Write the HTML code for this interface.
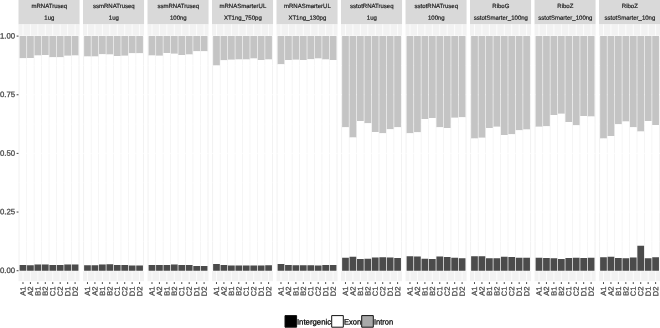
<!DOCTYPE html>
<html><head><meta charset="utf-8"><title>chart</title><style>html,body{margin:0;padding:0;background:#fff}body{width:660px;height:328px;overflow:hidden}</style></head><body>
<svg width="660" height="328" viewBox="0 0 660 328" style="display:block;will-change:transform;text-rendering:geometricPrecision" font-family="Liberation Sans, sans-serif">
<rect width="660" height="328" fill="#fff"/>
<rect x="18.5" y="0" width="61.05" height="24.4" fill="#d9d9d9"/>
<rect x="18.5" y="24.4" width="61.05" height="256.8" fill="#f2f2f2"/>
<path d="M18.5 241.38h61.05M18.5 182.72h61.05M18.5 124.07h61.05M18.5 65.42h61.05" stroke="#fff" stroke-width="0.39" fill="none"/>
<path d="M18.5 270.7h61.05M18.5 212.05h61.05M18.5 153.4h61.05M18.5 94.75h61.05M18.5 36.1h61.05M22.97 24.4V281.2M30.41 24.4V281.2M37.86 24.4V281.2M45.3 24.4V281.2M52.75 24.4V281.2M60.19 24.4V281.2M67.64 24.4V281.2M75.08 24.4V281.2" stroke="#fff" stroke-width="0.78" fill="none"/>
<path d="M19.62 36.1h6.7V58.2h-6.7zM27.06 36.1h6.7V57.9h-6.7zM34.51 36.1h6.7V55.4h-6.7zM41.95 36.1h6.7V55.1h-6.7zM49.4 36.1h6.7V57.2h-6.7zM56.84 36.1h6.7V57.3h-6.7zM64.29 36.1h6.7V55.7h-6.7zM71.73 36.1h6.7V55.4h-6.7z" fill="#c4c4c4"/>
<path d="M19.62 58.2h6.7V264.9h-6.7zM27.06 57.9h6.7V265.2h-6.7zM34.51 55.4h6.7V264.4h-6.7zM41.95 55.1h6.7V264.4h-6.7zM49.4 57.2h6.7V265.1h-6.7zM56.84 57.3h6.7V265.1h-6.7zM64.29 55.7h6.7V264.6h-6.7zM71.73 55.4h6.7V264.6h-6.7z" fill="#ffffff"/>
<path d="M19.62 264.9h6.7V270.7h-6.7zM27.06 265.2h6.7V270.7h-6.7zM34.51 264.4h6.7V270.7h-6.7zM41.95 264.4h6.7V270.7h-6.7zM49.4 265.1h6.7V270.7h-6.7zM56.84 265.1h6.7V270.7h-6.7zM64.29 264.6h6.7V270.7h-6.7zM71.73 264.6h6.7V270.7h-6.7z" fill="#4b4b4b"/>
<path d="M22.97 282.1v1.9M30.41 282.1v1.9M37.86 282.1v1.9M45.3 282.1v1.9M52.75 282.1v1.9M60.19 282.1v1.9M67.64 282.1v1.9M75.08 282.1v1.9" stroke="#333" stroke-width="0.9" fill="none"/>
<text transform="translate(49.32 7.95) rotate(0.06)" font-size="6.03" text-anchor="middle" fill="#1a1a1a" stroke="#1a1a1a" stroke-width="0.18">mRNATruseq</text>
<text transform="translate(49.32 19.85) rotate(0.06)" font-size="6.03" text-anchor="middle" fill="#1a1a1a" stroke="#1a1a1a" stroke-width="0.18">1ug</text>
<text transform="translate(25.55 286.65) rotate(-89.9)" font-size="7.5" text-anchor="end" fill="#4d4d4d" stroke="#4d4d4d" stroke-width="0.3">A1</text>
<text transform="translate(32.99 286.65) rotate(-89.9)" font-size="7.5" text-anchor="end" fill="#4d4d4d" stroke="#4d4d4d" stroke-width="0.3">A2</text>
<text transform="translate(40.44 286.65) rotate(-89.9)" font-size="7.5" text-anchor="end" fill="#4d4d4d" stroke="#4d4d4d" stroke-width="0.3">B1</text>
<text transform="translate(47.88 286.65) rotate(-89.9)" font-size="7.5" text-anchor="end" fill="#4d4d4d" stroke="#4d4d4d" stroke-width="0.3">B2</text>
<text transform="translate(55.33 286.65) rotate(-89.9)" font-size="7.5" text-anchor="end" fill="#4d4d4d" stroke="#4d4d4d" stroke-width="0.3">C1</text>
<text transform="translate(62.77 286.65) rotate(-89.9)" font-size="7.5" text-anchor="end" fill="#4d4d4d" stroke="#4d4d4d" stroke-width="0.3">C2</text>
<text transform="translate(70.22 286.65) rotate(-89.9)" font-size="7.5" text-anchor="end" fill="#4d4d4d" stroke="#4d4d4d" stroke-width="0.3">D1</text>
<text transform="translate(77.66 286.65) rotate(-89.9)" font-size="7.5" text-anchor="end" fill="#4d4d4d" stroke="#4d4d4d" stroke-width="0.3">D2</text>
<rect x="83" y="0" width="61.05" height="24.4" fill="#d9d9d9"/>
<rect x="83" y="24.4" width="61.05" height="256.8" fill="#f2f2f2"/>
<path d="M83 241.38h61.05M83 182.72h61.05M83 124.07h61.05M83 65.42h61.05" stroke="#fff" stroke-width="0.39" fill="none"/>
<path d="M83 270.7h61.05M83 212.05h61.05M83 153.4h61.05M83 94.75h61.05M83 36.1h61.05M87.47 24.4V281.2M94.92 24.4V281.2M102.36 24.4V281.2M109.81 24.4V281.2M117.25 24.4V281.2M124.7 24.4V281.2M132.14 24.4V281.2M139.59 24.4V281.2" stroke="#fff" stroke-width="0.78" fill="none"/>
<path d="M84.12 36.1h6.7V56.4h-6.7zM91.56 36.1h6.7V56.4h-6.7zM99.01 36.1h6.7V54.3h-6.7zM106.46 36.1h6.7V54.6h-6.7zM113.9 36.1h6.7V56.1h-6.7zM121.35 36.1h6.7V55.7h-6.7zM128.79 36.1h6.7V53.3h-6.7zM136.24 36.1h6.7V53.3h-6.7z" fill="#c4c4c4"/>
<path d="M84.12 56.4h6.7V265.2h-6.7zM91.56 56.4h6.7V265.2h-6.7zM99.01 54.3h6.7V264.6h-6.7zM106.46 54.6h6.7V264.3h-6.7zM113.9 56.1h6.7V265h-6.7zM121.35 55.7h6.7V265.1h-6.7zM128.79 53.3h6.7V265.5h-6.7zM136.24 53.3h6.7V265.5h-6.7z" fill="#ffffff"/>
<path d="M84.12 265.2h6.7V270.7h-6.7zM91.56 265.2h6.7V270.7h-6.7zM99.01 264.6h6.7V270.7h-6.7zM106.46 264.3h6.7V270.7h-6.7zM113.9 265h6.7V270.7h-6.7zM121.35 265.1h6.7V270.7h-6.7zM128.79 265.5h6.7V270.7h-6.7zM136.24 265.5h6.7V270.7h-6.7z" fill="#4b4b4b"/>
<path d="M87.47 282.1v1.9M94.92 282.1v1.9M102.36 282.1v1.9M109.81 282.1v1.9M117.25 282.1v1.9M124.7 282.1v1.9M132.14 282.1v1.9M139.59 282.1v1.9" stroke="#333" stroke-width="0.9" fill="none"/>
<text transform="translate(113.83 7.95) rotate(0.06)" font-size="6.03" text-anchor="middle" fill="#1a1a1a" stroke="#1a1a1a" stroke-width="0.18">ssmRNATruseq</text>
<text transform="translate(113.83 19.85) rotate(0.06)" font-size="6.03" text-anchor="middle" fill="#1a1a1a" stroke="#1a1a1a" stroke-width="0.18">1ug</text>
<text transform="translate(90.05 286.65) rotate(-89.9)" font-size="7.5" text-anchor="end" fill="#4d4d4d" stroke="#4d4d4d" stroke-width="0.3">A1</text>
<text transform="translate(97.5 286.65) rotate(-89.9)" font-size="7.5" text-anchor="end" fill="#4d4d4d" stroke="#4d4d4d" stroke-width="0.3">A2</text>
<text transform="translate(104.94 286.65) rotate(-89.9)" font-size="7.5" text-anchor="end" fill="#4d4d4d" stroke="#4d4d4d" stroke-width="0.3">B1</text>
<text transform="translate(112.39 286.65) rotate(-89.9)" font-size="7.5" text-anchor="end" fill="#4d4d4d" stroke="#4d4d4d" stroke-width="0.3">B2</text>
<text transform="translate(119.83 286.65) rotate(-89.9)" font-size="7.5" text-anchor="end" fill="#4d4d4d" stroke="#4d4d4d" stroke-width="0.3">C1</text>
<text transform="translate(127.28 286.65) rotate(-89.9)" font-size="7.5" text-anchor="end" fill="#4d4d4d" stroke="#4d4d4d" stroke-width="0.3">C2</text>
<text transform="translate(134.72 286.65) rotate(-89.9)" font-size="7.5" text-anchor="end" fill="#4d4d4d" stroke="#4d4d4d" stroke-width="0.3">D1</text>
<text transform="translate(142.17 286.65) rotate(-89.9)" font-size="7.5" text-anchor="end" fill="#4d4d4d" stroke="#4d4d4d" stroke-width="0.3">D2</text>
<rect x="147.51" y="0" width="61.05" height="24.4" fill="#d9d9d9"/>
<rect x="147.51" y="24.4" width="61.05" height="256.8" fill="#f2f2f2"/>
<path d="M147.51 241.38h61.05M147.51 182.72h61.05M147.51 124.07h61.05M147.51 65.42h61.05" stroke="#fff" stroke-width="0.39" fill="none"/>
<path d="M147.51 270.7h61.05M147.51 212.05h61.05M147.51 153.4h61.05M147.51 94.75h61.05M147.51 36.1h61.05M151.97 24.4V281.2M159.42 24.4V281.2M166.86 24.4V281.2M174.31 24.4V281.2M181.75 24.4V281.2M189.2 24.4V281.2M196.64 24.4V281.2M204.09 24.4V281.2" stroke="#fff" stroke-width="0.78" fill="none"/>
<path d="M148.62 36.1h6.7V55.4h-6.7zM156.07 36.1h6.7V55.7h-6.7zM163.51 36.1h6.7V53.1h-6.7zM170.96 36.1h6.7V53.7h-6.7zM178.4 36.1h6.7V54.9h-6.7zM185.85 36.1h6.7V54.5h-6.7zM193.29 36.1h6.7V51.2h-6.7zM200.74 36.1h6.7V51.2h-6.7z" fill="#c4c4c4"/>
<path d="M148.62 55.4h6.7V265h-6.7zM156.07 55.7h6.7V264.9h-6.7zM163.51 53.1h6.7V264.9h-6.7zM170.96 53.7h6.7V264.4h-6.7zM178.4 54.9h6.7V264.9h-6.7zM185.85 54.5h6.7V265h-6.7zM193.29 51.2h6.7V265.9h-6.7zM200.74 51.2h6.7V265.9h-6.7z" fill="#ffffff"/>
<path d="M148.62 265h6.7V270.7h-6.7zM156.07 264.9h6.7V270.7h-6.7zM163.51 264.9h6.7V270.7h-6.7zM170.96 264.4h6.7V270.7h-6.7zM178.4 264.9h6.7V270.7h-6.7zM185.85 265h6.7V270.7h-6.7zM193.29 265.9h6.7V270.7h-6.7zM200.74 265.9h6.7V270.7h-6.7z" fill="#4b4b4b"/>
<path d="M151.97 282.1v1.9M159.42 282.1v1.9M166.86 282.1v1.9M174.31 282.1v1.9M181.75 282.1v1.9M189.2 282.1v1.9M196.64 282.1v1.9M204.09 282.1v1.9" stroke="#333" stroke-width="0.9" fill="none"/>
<text transform="translate(178.33 7.95) rotate(0.06)" font-size="6.03" text-anchor="middle" fill="#1a1a1a" stroke="#1a1a1a" stroke-width="0.18">ssmRNATruseq</text>
<text transform="translate(178.33 19.85) rotate(0.06)" font-size="6.03" text-anchor="middle" fill="#1a1a1a" stroke="#1a1a1a" stroke-width="0.18">100ng</text>
<text transform="translate(154.55 286.65) rotate(-89.9)" font-size="7.5" text-anchor="end" fill="#4d4d4d" stroke="#4d4d4d" stroke-width="0.3">A1</text>
<text transform="translate(162 286.65) rotate(-89.9)" font-size="7.5" text-anchor="end" fill="#4d4d4d" stroke="#4d4d4d" stroke-width="0.3">A2</text>
<text transform="translate(169.44 286.65) rotate(-89.9)" font-size="7.5" text-anchor="end" fill="#4d4d4d" stroke="#4d4d4d" stroke-width="0.3">B1</text>
<text transform="translate(176.89 286.65) rotate(-89.9)" font-size="7.5" text-anchor="end" fill="#4d4d4d" stroke="#4d4d4d" stroke-width="0.3">B2</text>
<text transform="translate(184.33 286.65) rotate(-89.9)" font-size="7.5" text-anchor="end" fill="#4d4d4d" stroke="#4d4d4d" stroke-width="0.3">C1</text>
<text transform="translate(191.78 286.65) rotate(-89.9)" font-size="7.5" text-anchor="end" fill="#4d4d4d" stroke="#4d4d4d" stroke-width="0.3">C2</text>
<text transform="translate(199.22 286.65) rotate(-89.9)" font-size="7.5" text-anchor="end" fill="#4d4d4d" stroke="#4d4d4d" stroke-width="0.3">D1</text>
<text transform="translate(206.67 286.65) rotate(-89.9)" font-size="7.5" text-anchor="end" fill="#4d4d4d" stroke="#4d4d4d" stroke-width="0.3">D2</text>
<rect x="212.01" y="0" width="61.05" height="24.4" fill="#d9d9d9"/>
<rect x="212.01" y="24.4" width="61.05" height="256.8" fill="#f2f2f2"/>
<path d="M212.01 241.38h61.05M212.01 182.72h61.05M212.01 124.07h61.05M212.01 65.42h61.05" stroke="#fff" stroke-width="0.39" fill="none"/>
<path d="M212.01 270.7h61.05M212.01 212.05h61.05M212.01 153.4h61.05M212.01 94.75h61.05M212.01 36.1h61.05M216.48 24.4V281.2M223.92 24.4V281.2M231.37 24.4V281.2M238.81 24.4V281.2M246.26 24.4V281.2M253.7 24.4V281.2M261.15 24.4V281.2M268.59 24.4V281.2" stroke="#fff" stroke-width="0.78" fill="none"/>
<path d="M213.13 36.1h6.7V65.5h-6.7zM220.57 36.1h6.7V60.3h-6.7zM228.02 36.1h6.7V59.8h-6.7zM235.46 36.1h6.7V59.4h-6.7zM242.91 36.1h6.7V59.4h-6.7zM250.35 36.1h6.7V58.4h-6.7zM257.8 36.1h6.7V60h-6.7zM265.24 36.1h6.7V59.4h-6.7z" fill="#c4c4c4"/>
<path d="M213.13 65.5h6.7V264h-6.7zM220.57 60.3h6.7V265h-6.7zM228.02 59.8h6.7V265.6h-6.7zM235.46 59.4h6.7V265.5h-6.7zM242.91 59.4h6.7V265.5h-6.7zM250.35 58.4h6.7V265.6h-6.7zM257.8 60h6.7V265.5h-6.7zM265.24 59.4h6.7V265.2h-6.7z" fill="#ffffff"/>
<path d="M213.13 264h6.7V270.7h-6.7zM220.57 265h6.7V270.7h-6.7zM228.02 265.6h6.7V270.7h-6.7zM235.46 265.5h6.7V270.7h-6.7zM242.91 265.5h6.7V270.7h-6.7zM250.35 265.6h6.7V270.7h-6.7zM257.8 265.5h6.7V270.7h-6.7zM265.24 265.2h6.7V270.7h-6.7z" fill="#4b4b4b"/>
<path d="M216.48 282.1v1.9M223.92 282.1v1.9M231.37 282.1v1.9M238.81 282.1v1.9M246.26 282.1v1.9M253.7 282.1v1.9M261.15 282.1v1.9M268.59 282.1v1.9" stroke="#333" stroke-width="0.9" fill="none"/>
<text transform="translate(242.83 7.95) rotate(0.06)" font-size="6.03" text-anchor="middle" fill="#1a1a1a" stroke="#1a1a1a" stroke-width="0.18">mRNASmarterUL</text>
<text transform="translate(242.83 19.85) rotate(0.06)" font-size="6.03" text-anchor="middle" fill="#1a1a1a" stroke="#1a1a1a" stroke-width="0.18">XT1ng_750pg</text>
<text transform="translate(219.06 286.65) rotate(-89.9)" font-size="7.5" text-anchor="end" fill="#4d4d4d" stroke="#4d4d4d" stroke-width="0.3">A1</text>
<text transform="translate(226.5 286.65) rotate(-89.9)" font-size="7.5" text-anchor="end" fill="#4d4d4d" stroke="#4d4d4d" stroke-width="0.3">A2</text>
<text transform="translate(233.95 286.65) rotate(-89.9)" font-size="7.5" text-anchor="end" fill="#4d4d4d" stroke="#4d4d4d" stroke-width="0.3">B1</text>
<text transform="translate(241.39 286.65) rotate(-89.9)" font-size="7.5" text-anchor="end" fill="#4d4d4d" stroke="#4d4d4d" stroke-width="0.3">B2</text>
<text transform="translate(248.84 286.65) rotate(-89.9)" font-size="7.5" text-anchor="end" fill="#4d4d4d" stroke="#4d4d4d" stroke-width="0.3">C1</text>
<text transform="translate(256.28 286.65) rotate(-89.9)" font-size="7.5" text-anchor="end" fill="#4d4d4d" stroke="#4d4d4d" stroke-width="0.3">C2</text>
<text transform="translate(263.73 286.65) rotate(-89.9)" font-size="7.5" text-anchor="end" fill="#4d4d4d" stroke="#4d4d4d" stroke-width="0.3">D1</text>
<text transform="translate(271.17 286.65) rotate(-89.9)" font-size="7.5" text-anchor="end" fill="#4d4d4d" stroke="#4d4d4d" stroke-width="0.3">D2</text>
<rect x="276.51" y="0" width="61.05" height="24.4" fill="#d9d9d9"/>
<rect x="276.51" y="24.4" width="61.05" height="256.8" fill="#f2f2f2"/>
<path d="M276.51 241.38h61.05M276.51 182.72h61.05M276.51 124.07h61.05M276.51 65.42h61.05" stroke="#fff" stroke-width="0.39" fill="none"/>
<path d="M276.51 270.7h61.05M276.51 212.05h61.05M276.51 153.4h61.05M276.51 94.75h61.05M276.51 36.1h61.05M280.98 24.4V281.2M288.42 24.4V281.2M295.87 24.4V281.2M303.31 24.4V281.2M310.76 24.4V281.2M318.2 24.4V281.2M325.65 24.4V281.2M333.09 24.4V281.2" stroke="#fff" stroke-width="0.78" fill="none"/>
<path d="M277.63 36.1h6.7V64.3h-6.7zM285.07 36.1h6.7V60h-6.7zM292.52 36.1h6.7V59.8h-6.7zM299.96 36.1h6.7V60h-6.7zM307.41 36.1h6.7V59.2h-6.7zM314.85 36.1h6.7V58.4h-6.7zM322.3 36.1h6.7V59.4h-6.7zM329.74 36.1h6.7V60h-6.7z" fill="#c4c4c4"/>
<path d="M277.63 64.3h6.7V264h-6.7zM285.07 60h6.7V265h-6.7zM292.52 59.8h6.7V265.2h-6.7zM299.96 60h6.7V265.2h-6.7zM307.41 59.2h6.7V265.2h-6.7zM314.85 58.4h6.7V265.5h-6.7zM322.3 59.4h6.7V265h-6.7zM329.74 60h6.7V264.9h-6.7z" fill="#ffffff"/>
<path d="M277.63 264h6.7V270.7h-6.7zM285.07 265h6.7V270.7h-6.7zM292.52 265.2h6.7V270.7h-6.7zM299.96 265.2h6.7V270.7h-6.7zM307.41 265.2h6.7V270.7h-6.7zM314.85 265.5h6.7V270.7h-6.7zM322.3 265h6.7V270.7h-6.7zM329.74 264.9h6.7V270.7h-6.7z" fill="#4b4b4b"/>
<path d="M280.98 282.1v1.9M288.42 282.1v1.9M295.87 282.1v1.9M303.31 282.1v1.9M310.76 282.1v1.9M318.2 282.1v1.9M325.65 282.1v1.9M333.09 282.1v1.9" stroke="#333" stroke-width="0.9" fill="none"/>
<text transform="translate(307.34 7.95) rotate(0.06)" font-size="6.03" text-anchor="middle" fill="#1a1a1a" stroke="#1a1a1a" stroke-width="0.18">mRNASmarterUL</text>
<text transform="translate(307.34 19.85) rotate(0.06)" font-size="6.03" text-anchor="middle" fill="#1a1a1a" stroke="#1a1a1a" stroke-width="0.18">XT1ng_130pg</text>
<text transform="translate(283.56 286.65) rotate(-89.9)" font-size="7.5" text-anchor="end" fill="#4d4d4d" stroke="#4d4d4d" stroke-width="0.3">A1</text>
<text transform="translate(291 286.65) rotate(-89.9)" font-size="7.5" text-anchor="end" fill="#4d4d4d" stroke="#4d4d4d" stroke-width="0.3">A2</text>
<text transform="translate(298.45 286.65) rotate(-89.9)" font-size="7.5" text-anchor="end" fill="#4d4d4d" stroke="#4d4d4d" stroke-width="0.3">B1</text>
<text transform="translate(305.89 286.65) rotate(-89.9)" font-size="7.5" text-anchor="end" fill="#4d4d4d" stroke="#4d4d4d" stroke-width="0.3">B2</text>
<text transform="translate(313.34 286.65) rotate(-89.9)" font-size="7.5" text-anchor="end" fill="#4d4d4d" stroke="#4d4d4d" stroke-width="0.3">C1</text>
<text transform="translate(320.78 286.65) rotate(-89.9)" font-size="7.5" text-anchor="end" fill="#4d4d4d" stroke="#4d4d4d" stroke-width="0.3">C2</text>
<text transform="translate(328.23 286.65) rotate(-89.9)" font-size="7.5" text-anchor="end" fill="#4d4d4d" stroke="#4d4d4d" stroke-width="0.3">D1</text>
<text transform="translate(335.67 286.65) rotate(-89.9)" font-size="7.5" text-anchor="end" fill="#4d4d4d" stroke="#4d4d4d" stroke-width="0.3">D2</text>
<rect x="341.01" y="0" width="61.05" height="24.4" fill="#d9d9d9"/>
<rect x="341.01" y="24.4" width="61.05" height="256.8" fill="#f2f2f2"/>
<path d="M341.01 241.38h61.05M341.01 182.72h61.05M341.01 124.07h61.05M341.01 65.42h61.05" stroke="#fff" stroke-width="0.39" fill="none"/>
<path d="M341.01 270.7h61.05M341.01 212.05h61.05M341.01 153.4h61.05M341.01 94.75h61.05M341.01 36.1h61.05M345.48 24.4V281.2M352.93 24.4V281.2M360.37 24.4V281.2M367.82 24.4V281.2M375.26 24.4V281.2M382.71 24.4V281.2M390.15 24.4V281.2M397.6 24.4V281.2" stroke="#fff" stroke-width="0.78" fill="none"/>
<path d="M342.13 36.1h6.7V127.2h-6.7zM349.58 36.1h6.7V137.45h-6.7zM357.02 36.1h6.7V121.1h-6.7zM364.47 36.1h6.7V123.2h-6.7zM371.91 36.1h6.7V132.1h-6.7zM379.36 36.1h6.7V133.3h-6.7zM386.8 36.1h6.7V129.3h-6.7zM394.25 36.1h6.7V127.2h-6.7z" fill="#c4c4c4"/>
<path d="M342.13 127.2h6.7V257.8h-6.7zM349.58 137.45h6.7V256.7h-6.7zM357.02 121.1h6.7V259h-6.7zM364.47 123.2h6.7V258.8h-6.7zM371.91 132.1h6.7V257.6h-6.7zM379.36 133.3h6.7V257.2h-6.7zM386.8 129.3h6.7V257.4h-6.7zM394.25 127.2h6.7V257.9h-6.7z" fill="#ffffff"/>
<path d="M342.13 257.8h6.7V270.7h-6.7zM349.58 256.7h6.7V270.7h-6.7zM357.02 259h6.7V270.7h-6.7zM364.47 258.8h6.7V270.7h-6.7zM371.91 257.6h6.7V270.7h-6.7zM379.36 257.2h6.7V270.7h-6.7zM386.8 257.4h6.7V270.7h-6.7zM394.25 257.9h6.7V270.7h-6.7z" fill="#4b4b4b"/>
<path d="M345.48 282.1v1.9M352.93 282.1v1.9M360.37 282.1v1.9M367.82 282.1v1.9M375.26 282.1v1.9M382.71 282.1v1.9M390.15 282.1v1.9M397.6 282.1v1.9" stroke="#333" stroke-width="0.9" fill="none"/>
<text transform="translate(371.84 7.95) rotate(0.06)" font-size="6.03" text-anchor="middle" fill="#1a1a1a" stroke="#1a1a1a" stroke-width="0.18">sstotRNATruseq</text>
<text transform="translate(371.84 19.85) rotate(0.06)" font-size="6.03" text-anchor="middle" fill="#1a1a1a" stroke="#1a1a1a" stroke-width="0.18">1ug</text>
<text transform="translate(348.06 286.65) rotate(-89.9)" font-size="7.5" text-anchor="end" fill="#4d4d4d" stroke="#4d4d4d" stroke-width="0.3">A1</text>
<text transform="translate(355.51 286.65) rotate(-89.9)" font-size="7.5" text-anchor="end" fill="#4d4d4d" stroke="#4d4d4d" stroke-width="0.3">A2</text>
<text transform="translate(362.95 286.65) rotate(-89.9)" font-size="7.5" text-anchor="end" fill="#4d4d4d" stroke="#4d4d4d" stroke-width="0.3">B1</text>
<text transform="translate(370.4 286.65) rotate(-89.9)" font-size="7.5" text-anchor="end" fill="#4d4d4d" stroke="#4d4d4d" stroke-width="0.3">B2</text>
<text transform="translate(377.84 286.65) rotate(-89.9)" font-size="7.5" text-anchor="end" fill="#4d4d4d" stroke="#4d4d4d" stroke-width="0.3">C1</text>
<text transform="translate(385.29 286.65) rotate(-89.9)" font-size="7.5" text-anchor="end" fill="#4d4d4d" stroke="#4d4d4d" stroke-width="0.3">C2</text>
<text transform="translate(392.73 286.65) rotate(-89.9)" font-size="7.5" text-anchor="end" fill="#4d4d4d" stroke="#4d4d4d" stroke-width="0.3">D1</text>
<text transform="translate(400.18 286.65) rotate(-89.9)" font-size="7.5" text-anchor="end" fill="#4d4d4d" stroke="#4d4d4d" stroke-width="0.3">D2</text>
<rect x="405.52" y="0" width="61.05" height="24.4" fill="#d9d9d9"/>
<rect x="405.52" y="24.4" width="61.05" height="256.8" fill="#f2f2f2"/>
<path d="M405.52 241.38h61.05M405.52 182.72h61.05M405.52 124.07h61.05M405.52 65.42h61.05" stroke="#fff" stroke-width="0.39" fill="none"/>
<path d="M405.52 270.7h61.05M405.52 212.05h61.05M405.52 153.4h61.05M405.52 94.75h61.05M405.52 36.1h61.05M409.99 24.4V281.2M417.43 24.4V281.2M424.88 24.4V281.2M432.32 24.4V281.2M439.77 24.4V281.2M447.21 24.4V281.2M454.66 24.4V281.2M462.1 24.4V281.2" stroke="#fff" stroke-width="0.78" fill="none"/>
<path d="M406.63 36.1h6.7V133.3h-6.7zM414.08 36.1h6.7V132.3h-6.7zM421.53 36.1h6.7V118.9h-6.7zM428.97 36.1h6.7V118.1h-6.7zM436.42 36.1h6.7V127.2h-6.7zM443.86 36.1h6.7V128.1h-6.7zM451.31 36.1h6.7V117.7h-6.7zM458.75 36.1h6.7V117.3h-6.7z" fill="#c4c4c4"/>
<path d="M406.63 133.3h6.7V256.3h-6.7zM414.08 132.3h6.7V256.6h-6.7zM421.53 118.9h6.7V258.8h-6.7zM428.97 118.1h6.7V259h-6.7zM436.42 127.2h6.7V256.6h-6.7zM443.86 128.1h6.7V257.1h-6.7zM451.31 117.7h6.7V257.8h-6.7zM458.75 117.3h6.7V258.2h-6.7z" fill="#ffffff"/>
<path d="M406.63 256.3h6.7V270.7h-6.7zM414.08 256.6h6.7V270.7h-6.7zM421.53 258.8h6.7V270.7h-6.7zM428.97 259h6.7V270.7h-6.7zM436.42 256.6h6.7V270.7h-6.7zM443.86 257.1h6.7V270.7h-6.7zM451.31 257.8h6.7V270.7h-6.7zM458.75 258.2h6.7V270.7h-6.7z" fill="#4b4b4b"/>
<path d="M409.99 282.1v1.9M417.43 282.1v1.9M424.88 282.1v1.9M432.32 282.1v1.9M439.77 282.1v1.9M447.21 282.1v1.9M454.66 282.1v1.9M462.1 282.1v1.9" stroke="#333" stroke-width="0.9" fill="none"/>
<text transform="translate(436.34 7.95) rotate(0.06)" font-size="6.03" text-anchor="middle" fill="#1a1a1a" stroke="#1a1a1a" stroke-width="0.18">sstotRNATruseq</text>
<text transform="translate(436.34 19.85) rotate(0.06)" font-size="6.03" text-anchor="middle" fill="#1a1a1a" stroke="#1a1a1a" stroke-width="0.18">100ng</text>
<text transform="translate(412.57 286.65) rotate(-89.9)" font-size="7.5" text-anchor="end" fill="#4d4d4d" stroke="#4d4d4d" stroke-width="0.3">A1</text>
<text transform="translate(420.01 286.65) rotate(-89.9)" font-size="7.5" text-anchor="end" fill="#4d4d4d" stroke="#4d4d4d" stroke-width="0.3">A2</text>
<text transform="translate(427.46 286.65) rotate(-89.9)" font-size="7.5" text-anchor="end" fill="#4d4d4d" stroke="#4d4d4d" stroke-width="0.3">B1</text>
<text transform="translate(434.9 286.65) rotate(-89.9)" font-size="7.5" text-anchor="end" fill="#4d4d4d" stroke="#4d4d4d" stroke-width="0.3">B2</text>
<text transform="translate(442.35 286.65) rotate(-89.9)" font-size="7.5" text-anchor="end" fill="#4d4d4d" stroke="#4d4d4d" stroke-width="0.3">C1</text>
<text transform="translate(449.79 286.65) rotate(-89.9)" font-size="7.5" text-anchor="end" fill="#4d4d4d" stroke="#4d4d4d" stroke-width="0.3">C2</text>
<text transform="translate(457.24 286.65) rotate(-89.9)" font-size="7.5" text-anchor="end" fill="#4d4d4d" stroke="#4d4d4d" stroke-width="0.3">D1</text>
<text transform="translate(464.68 286.65) rotate(-89.9)" font-size="7.5" text-anchor="end" fill="#4d4d4d" stroke="#4d4d4d" stroke-width="0.3">D2</text>
<rect x="470.02" y="0" width="61.05" height="24.4" fill="#d9d9d9"/>
<rect x="470.02" y="24.4" width="61.05" height="256.8" fill="#f2f2f2"/>
<path d="M470.02 241.38h61.05M470.02 182.72h61.05M470.02 124.07h61.05M470.02 65.42h61.05" stroke="#fff" stroke-width="0.39" fill="none"/>
<path d="M470.02 270.7h61.05M470.02 212.05h61.05M470.02 153.4h61.05M470.02 94.75h61.05M470.02 36.1h61.05M474.49 24.4V281.2M481.93 24.4V281.2M489.38 24.4V281.2M496.82 24.4V281.2M504.27 24.4V281.2M511.71 24.4V281.2M519.16 24.4V281.2M526.6 24.4V281.2" stroke="#fff" stroke-width="0.78" fill="none"/>
<path d="M471.14 36.1h6.7V138.4h-6.7zM478.58 36.1h6.7V137.8h-6.7zM486.03 36.1h6.7V128.1h-6.7zM493.47 36.1h6.7V126.8h-6.7zM500.92 36.1h6.7V135h-6.7zM508.36 36.1h6.7V134.2h-6.7zM515.81 36.1h6.7V130.3h-6.7zM523.25 36.1h6.7V129.6h-6.7z" fill="#c4c4c4"/>
<path d="M471.14 138.4h6.7V256.2h-6.7zM478.58 137.8h6.7V256.2h-6.7zM486.03 128.1h6.7V258.2h-6.7zM493.47 126.8h6.7V258.2h-6.7zM500.92 135h6.7V256.8h-6.7zM508.36 134.2h6.7V257h-6.7zM515.81 130.3h6.7V257.8h-6.7zM523.25 129.6h6.7V257.8h-6.7z" fill="#ffffff"/>
<path d="M471.14 256.2h6.7V270.7h-6.7zM478.58 256.2h6.7V270.7h-6.7zM486.03 258.2h6.7V270.7h-6.7zM493.47 258.2h6.7V270.7h-6.7zM500.92 256.8h6.7V270.7h-6.7zM508.36 257h6.7V270.7h-6.7zM515.81 257.8h6.7V270.7h-6.7zM523.25 257.8h6.7V270.7h-6.7z" fill="#4b4b4b"/>
<path d="M474.49 282.1v1.9M481.93 282.1v1.9M489.38 282.1v1.9M496.82 282.1v1.9M504.27 282.1v1.9M511.71 282.1v1.9M519.16 282.1v1.9M526.6 282.1v1.9" stroke="#333" stroke-width="0.9" fill="none"/>
<text transform="translate(500.85 7.95) rotate(0.06)" font-size="6.03" text-anchor="middle" fill="#1a1a1a" stroke="#1a1a1a" stroke-width="0.18">RiboG</text>
<text transform="translate(500.85 19.85) rotate(0.06)" font-size="6.03" text-anchor="middle" fill="#1a1a1a" stroke="#1a1a1a" stroke-width="0.18">sstotSmarter_100ng</text>
<text transform="translate(477.07 286.65) rotate(-89.9)" font-size="7.5" text-anchor="end" fill="#4d4d4d" stroke="#4d4d4d" stroke-width="0.3">A1</text>
<text transform="translate(484.51 286.65) rotate(-89.9)" font-size="7.5" text-anchor="end" fill="#4d4d4d" stroke="#4d4d4d" stroke-width="0.3">A2</text>
<text transform="translate(491.96 286.65) rotate(-89.9)" font-size="7.5" text-anchor="end" fill="#4d4d4d" stroke="#4d4d4d" stroke-width="0.3">B1</text>
<text transform="translate(499.4 286.65) rotate(-89.9)" font-size="7.5" text-anchor="end" fill="#4d4d4d" stroke="#4d4d4d" stroke-width="0.3">B2</text>
<text transform="translate(506.85 286.65) rotate(-89.9)" font-size="7.5" text-anchor="end" fill="#4d4d4d" stroke="#4d4d4d" stroke-width="0.3">C1</text>
<text transform="translate(514.29 286.65) rotate(-89.9)" font-size="7.5" text-anchor="end" fill="#4d4d4d" stroke="#4d4d4d" stroke-width="0.3">C2</text>
<text transform="translate(521.74 286.65) rotate(-89.9)" font-size="7.5" text-anchor="end" fill="#4d4d4d" stroke="#4d4d4d" stroke-width="0.3">D1</text>
<text transform="translate(529.18 286.65) rotate(-89.9)" font-size="7.5" text-anchor="end" fill="#4d4d4d" stroke="#4d4d4d" stroke-width="0.3">D2</text>
<rect x="534.52" y="0" width="61.05" height="24.4" fill="#d9d9d9"/>
<rect x="534.52" y="24.4" width="61.05" height="256.8" fill="#f2f2f2"/>
<path d="M534.52 241.38h61.05M534.52 182.72h61.05M534.52 124.07h61.05M534.52 65.42h61.05" stroke="#fff" stroke-width="0.39" fill="none"/>
<path d="M534.52 270.7h61.05M534.52 212.05h61.05M534.52 153.4h61.05M534.52 94.75h61.05M534.52 36.1h61.05M538.99 24.4V281.2M546.44 24.4V281.2M553.88 24.4V281.2M561.33 24.4V281.2M568.77 24.4V281.2M576.22 24.4V281.2M583.66 24.4V281.2M591.11 24.4V281.2" stroke="#fff" stroke-width="0.78" fill="none"/>
<path d="M535.64 36.1h6.7V126.8h-6.7zM543.09 36.1h6.7V126.2h-6.7zM550.53 36.1h6.7V115h-6.7zM557.98 36.1h6.7V113.8h-6.7zM565.42 36.1h6.7V122h-6.7zM572.87 36.1h6.7V125.3h-6.7zM580.31 36.1h6.7V115.9h-6.7zM587.76 36.1h6.7V116.5h-6.7z" fill="#c4c4c4"/>
<path d="M535.64 126.8h6.7V257.8h-6.7zM543.09 126.2h6.7V257.9h-6.7zM550.53 115h6.7V258.2h-6.7zM557.98 113.8h6.7V259h-6.7zM565.42 122h6.7V257.9h-6.7zM572.87 125.3h6.7V257.8h-6.7zM580.31 115.9h6.7V257.9h-6.7zM587.76 116.5h6.7V257.8h-6.7z" fill="#ffffff"/>
<path d="M535.64 257.8h6.7V270.7h-6.7zM543.09 257.9h6.7V270.7h-6.7zM550.53 258.2h6.7V270.7h-6.7zM557.98 259h6.7V270.7h-6.7zM565.42 257.9h6.7V270.7h-6.7zM572.87 257.8h6.7V270.7h-6.7zM580.31 257.9h6.7V270.7h-6.7zM587.76 257.8h6.7V270.7h-6.7z" fill="#4b4b4b"/>
<path d="M538.99 282.1v1.9M546.44 282.1v1.9M553.88 282.1v1.9M561.33 282.1v1.9M568.77 282.1v1.9M576.22 282.1v1.9M583.66 282.1v1.9M591.11 282.1v1.9" stroke="#333" stroke-width="0.9" fill="none"/>
<text transform="translate(565.35 7.95) rotate(0.06)" font-size="6.03" text-anchor="middle" fill="#1a1a1a" stroke="#1a1a1a" stroke-width="0.18">RiboZ</text>
<text transform="translate(565.35 19.85) rotate(0.06)" font-size="6.03" text-anchor="middle" fill="#1a1a1a" stroke="#1a1a1a" stroke-width="0.18">sstotSmarter_100ng</text>
<text transform="translate(541.57 286.65) rotate(-89.9)" font-size="7.5" text-anchor="end" fill="#4d4d4d" stroke="#4d4d4d" stroke-width="0.3">A1</text>
<text transform="translate(549.02 286.65) rotate(-89.9)" font-size="7.5" text-anchor="end" fill="#4d4d4d" stroke="#4d4d4d" stroke-width="0.3">A2</text>
<text transform="translate(556.46 286.65) rotate(-89.9)" font-size="7.5" text-anchor="end" fill="#4d4d4d" stroke="#4d4d4d" stroke-width="0.3">B1</text>
<text transform="translate(563.91 286.65) rotate(-89.9)" font-size="7.5" text-anchor="end" fill="#4d4d4d" stroke="#4d4d4d" stroke-width="0.3">B2</text>
<text transform="translate(571.35 286.65) rotate(-89.9)" font-size="7.5" text-anchor="end" fill="#4d4d4d" stroke="#4d4d4d" stroke-width="0.3">C1</text>
<text transform="translate(578.8 286.65) rotate(-89.9)" font-size="7.5" text-anchor="end" fill="#4d4d4d" stroke="#4d4d4d" stroke-width="0.3">C2</text>
<text transform="translate(586.24 286.65) rotate(-89.9)" font-size="7.5" text-anchor="end" fill="#4d4d4d" stroke="#4d4d4d" stroke-width="0.3">D1</text>
<text transform="translate(593.69 286.65) rotate(-89.9)" font-size="7.5" text-anchor="end" fill="#4d4d4d" stroke="#4d4d4d" stroke-width="0.3">D2</text>
<rect x="599.03" y="0" width="61.05" height="24.4" fill="#d9d9d9"/>
<rect x="599.03" y="24.4" width="61.05" height="256.8" fill="#f2f2f2"/>
<path d="M599.03 241.38h61.05M599.03 182.72h61.05M599.03 124.07h61.05M599.03 65.42h61.05" stroke="#fff" stroke-width="0.39" fill="none"/>
<path d="M599.03 270.7h61.05M599.03 212.05h61.05M599.03 153.4h61.05M599.03 94.75h61.05M599.03 36.1h61.05M603.49 24.4V281.2M610.94 24.4V281.2M618.38 24.4V281.2M625.83 24.4V281.2M633.27 24.4V281.2M640.72 24.4V281.2M648.16 24.4V281.2M655.61 24.4V281.2" stroke="#fff" stroke-width="0.78" fill="none"/>
<path d="M600.14 36.1h6.7V138.4h-6.7zM607.59 36.1h6.7V136h-6.7zM615.03 36.1h6.7V124.2h-6.7zM622.48 36.1h6.7V121.4h-6.7zM629.92 36.1h6.7V127.2h-6.7zM637.37 36.1h6.7V131.5h-6.7zM644.81 36.1h6.7V121.1h-6.7zM652.26 36.1h6.7V125h-6.7z" fill="#c4c4c4"/>
<path d="M600.14 138.4h6.7V257.3h-6.7zM607.59 136h6.7V256.7h-6.7zM615.03 124.2h6.7V257.9h-6.7zM622.48 121.4h6.7V258.2h-6.7zM629.92 127.2h6.7V257.6h-6.7zM637.37 131.5h6.7V245.7h-6.7zM644.81 121.1h6.7V258.2h-6.7zM652.26 125h6.7V257.2h-6.7z" fill="#ffffff"/>
<path d="M600.14 257.3h6.7V270.7h-6.7zM607.59 256.7h6.7V270.7h-6.7zM615.03 257.9h6.7V270.7h-6.7zM622.48 258.2h6.7V270.7h-6.7zM629.92 257.6h6.7V270.7h-6.7zM637.37 245.7h6.7V270.7h-6.7zM644.81 258.2h6.7V270.7h-6.7zM652.26 257.2h6.7V270.7h-6.7z" fill="#4b4b4b"/>
<path d="M603.49 282.1v1.9M610.94 282.1v1.9M618.38 282.1v1.9M625.83 282.1v1.9M633.27 282.1v1.9M640.72 282.1v1.9M648.16 282.1v1.9M655.61 282.1v1.9" stroke="#333" stroke-width="0.9" fill="none"/>
<text transform="translate(629.85 7.95) rotate(0.06)" font-size="6.03" text-anchor="middle" fill="#1a1a1a" stroke="#1a1a1a" stroke-width="0.18">RiboZ</text>
<text transform="translate(629.85 19.85) rotate(0.06)" font-size="6.03" text-anchor="middle" fill="#1a1a1a" stroke="#1a1a1a" stroke-width="0.18">sstotSmarter_10ng</text>
<text transform="translate(606.07 286.65) rotate(-89.9)" font-size="7.5" text-anchor="end" fill="#4d4d4d" stroke="#4d4d4d" stroke-width="0.3">A1</text>
<text transform="translate(613.52 286.65) rotate(-89.9)" font-size="7.5" text-anchor="end" fill="#4d4d4d" stroke="#4d4d4d" stroke-width="0.3">A2</text>
<text transform="translate(620.96 286.65) rotate(-89.9)" font-size="7.5" text-anchor="end" fill="#4d4d4d" stroke="#4d4d4d" stroke-width="0.3">B1</text>
<text transform="translate(628.41 286.65) rotate(-89.9)" font-size="7.5" text-anchor="end" fill="#4d4d4d" stroke="#4d4d4d" stroke-width="0.3">B2</text>
<text transform="translate(635.85 286.65) rotate(-89.9)" font-size="7.5" text-anchor="end" fill="#4d4d4d" stroke="#4d4d4d" stroke-width="0.3">C1</text>
<text transform="translate(643.3 286.65) rotate(-89.9)" font-size="7.5" text-anchor="end" fill="#4d4d4d" stroke="#4d4d4d" stroke-width="0.3">C2</text>
<text transform="translate(650.74 286.65) rotate(-89.9)" font-size="7.5" text-anchor="end" fill="#4d4d4d" stroke="#4d4d4d" stroke-width="0.3">D1</text>
<text transform="translate(658.19 286.65) rotate(-89.9)" font-size="7.5" text-anchor="end" fill="#4d4d4d" stroke="#4d4d4d" stroke-width="0.3">D2</text>
<text transform="translate(15.2 273) rotate(0.06)" font-size="7.8" text-anchor="end" fill="#4d4d4d" stroke="#4d4d4d" stroke-width="0.3">0.00</text>
<text transform="translate(15.2 214.35) rotate(0.06)" font-size="7.8" text-anchor="end" fill="#4d4d4d" stroke="#4d4d4d" stroke-width="0.3">0.25</text>
<text transform="translate(15.2 155.7) rotate(0.06)" font-size="7.8" text-anchor="end" fill="#4d4d4d" stroke="#4d4d4d" stroke-width="0.3">0.50</text>
<text transform="translate(15.2 97.05) rotate(0.06)" font-size="7.8" text-anchor="end" fill="#4d4d4d" stroke="#4d4d4d" stroke-width="0.3">0.75</text>
<text transform="translate(15.2 38.4) rotate(0.06)" font-size="7.8" text-anchor="end" fill="#4d4d4d" stroke="#4d4d4d" stroke-width="0.3">1.00</text>
<path d="M16.6 270.7h1.9M16.6 212.05h1.9M16.6 153.4h1.9M16.6 94.75h1.9M16.6 36.1h1.9" stroke="#333" stroke-width="0.9" fill="none"/>
<rect x="285" y="315.6" width="11.6" height="11.6" fill="#000" stroke="#111" stroke-width="1" stroke-linejoin="round"/>
<text transform="translate(296.9 324.4) rotate(0.06)" font-size="7.7" fill="#000" stroke="#000" stroke-width="0.25" textLength="34.3" lengthAdjust="spacingAndGlyphs">Intergenic</text>
<rect x="331.7" y="315.6" width="11.6" height="11.6" fill="#fff" stroke="#111" stroke-width="1" stroke-linejoin="round"/>
<text transform="translate(343.9 324.4) rotate(0.06)" font-size="7.7" fill="#000" stroke="#000" stroke-width="0.25" textLength="17.2" lengthAdjust="spacingAndGlyphs">Exon</text>
<rect x="361.7" y="315.6" width="11.6" height="11.6" fill="#a9a9a9" stroke="#111" stroke-width="1" stroke-linejoin="round"/>
<text transform="translate(374 324.4) rotate(0.06)" font-size="7.7" fill="#000" stroke="#000" stroke-width="0.25" textLength="19.2" lengthAdjust="spacingAndGlyphs">Intron</text>
</svg>
</body></html>
